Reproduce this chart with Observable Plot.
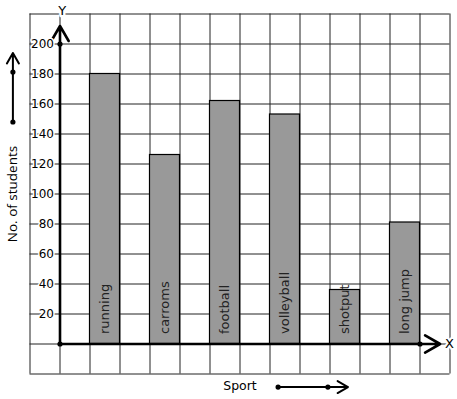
<!DOCTYPE html>
<html>
<head>
<meta charset="utf-8">
<script src="https://cdn.jsdelivr.net/npm/d3@7"></script>
<script src="https://cdn.jsdelivr.net/npm/@observablehq/plot@0.6"></script>
<style>
  html, body { margin: 0; padding: 0; background: #fff; }
  svg { overflow: visible; }
</style>
</head>
<body>
<div id="chart"></div>
<script>
const sports = ["running", "carroms", "football", "volleyball", "shotput", "long jump"];
const students = [180, 126, 162, 153, 36, 81];
const yTicks = [20, 40, 60, 80, 100, 120, 140, 160, 180, 200];
const gridX = d3.range(-1, 14);
const gridY = d3.range(-20, 221, 20);

const bars = sports.map((s, i) => ({sport: s, value: students[i], x1: 2 * i + 1, x2: 2 * i + 2}));

const font = "DejaVu Sans, sans-serif";

const chart = Plot.plot({
  width: 457,
  height: 399,
  margin: 0,
  style: {fontFamily: font, background: "#fff", overflow: "visible"},
  x: {domain: [-1, 13], range: [29.5, 449.5], axis: null},
  y: {domain: [-20, 220], range: [373.5, 13.5], axis: null},
  marks: [
    Plot.ruleX(gridX, {x: d => d, y1: -20, y2: 220, stroke: "#222", strokeWidth: 1, strokeOpacity: 1}),
    Plot.ruleY(gridY, {y: d => d, x1: -1, x2: 13, stroke: "#222", strokeWidth: 1, strokeOpacity: 1}),
    Plot.rectY(bars, {x1: "x1", x2: "x2", y: "value", fill: "#999999", stroke: "#000", strokeWidth: 1.2}),
    Plot.text(bars, {x: d => (d.x1 + d.x2) / 2, y: 0, text: "sport", rotate: -90, textAnchor: "start", dy: -10, fontSize: 13, fill: "#222"}),
    // axes
    Plot.arrow([0], {x1: 0, y1: 0, x2: 0, y2: 212, stroke: "#000", strokeWidth: 2.6, headLength: 10, bend: 0}),
    Plot.arrow([0], {x1: 0, y1: 0, x2: 12.67, y2: 0, stroke: "#000", strokeWidth: 2.6, headLength: 10, bend: 0}),
    Plot.text(yTicks, {x: 0, y: d => d, text: d => String(d), textAnchor: "end", dx: -6, fontSize: 12, fill: "#000", stroke: "#fff", strokeWidth: 3, paintOrder: "stroke"}),
    Plot.dot([[0, 200], [0, 0], [12, 0]], {x: d => d[0], y: d => d[1], r: 2.6, fill: "#000", stroke: "none"}),
    Plot.text(["Y"], {x: 0.07, y: 222.3, text: d => d, fontSize: 13, fill: "#000", stroke: "#fff", strokeWidth: 5, paintOrder: "stroke"}),
    Plot.text(["X"], {x: 12.83, y: 0, text: d => d, textAnchor: "start", fontSize: 13, fill: "#000", stroke: "#fff", strokeWidth: 4, paintOrder: "stroke"}),
    // left axis label and arrow
    Plot.text(["No. of students"], {x: -1.57, y: 100, text: d => d, rotate: -90, fontSize: 13.5, fontFamily: "Open Sans, sans-serif", fill: "#000"}),
    Plot.arrow([0], {x1: -1.57, y1: 148, x2: -1.57, y2: 194, stroke: "#000", strokeWidth: 2, headLength: 9, bend: 0}),
    Plot.dot([[-1.57, 148], [-1.57, 181.3]], {x: d => d[0], y: d => d[1], r: 2.6, fill: "#000", stroke: "none"}),
    // bottom label and arrow
    Plot.text(["Sport"], {x: 6.0, y: -28, text: d => d, fontSize: 12.5, fill: "#000"}),
    Plot.arrow([0], {x1: 7.27, y1: -28.7, x2: 9.6, y2: -28.7, stroke: "#000", strokeWidth: 2, headLength: 9, bend: 0}),
    Plot.dot([[7.27, -28.7], [8.93, -28.7]], {x: d => d[0], y: d => d[1], r: 2.6, fill: "#000", stroke: "none"})
  ]
});
document.getElementById("chart").appendChild(chart);
</script>
</body>
</html>
